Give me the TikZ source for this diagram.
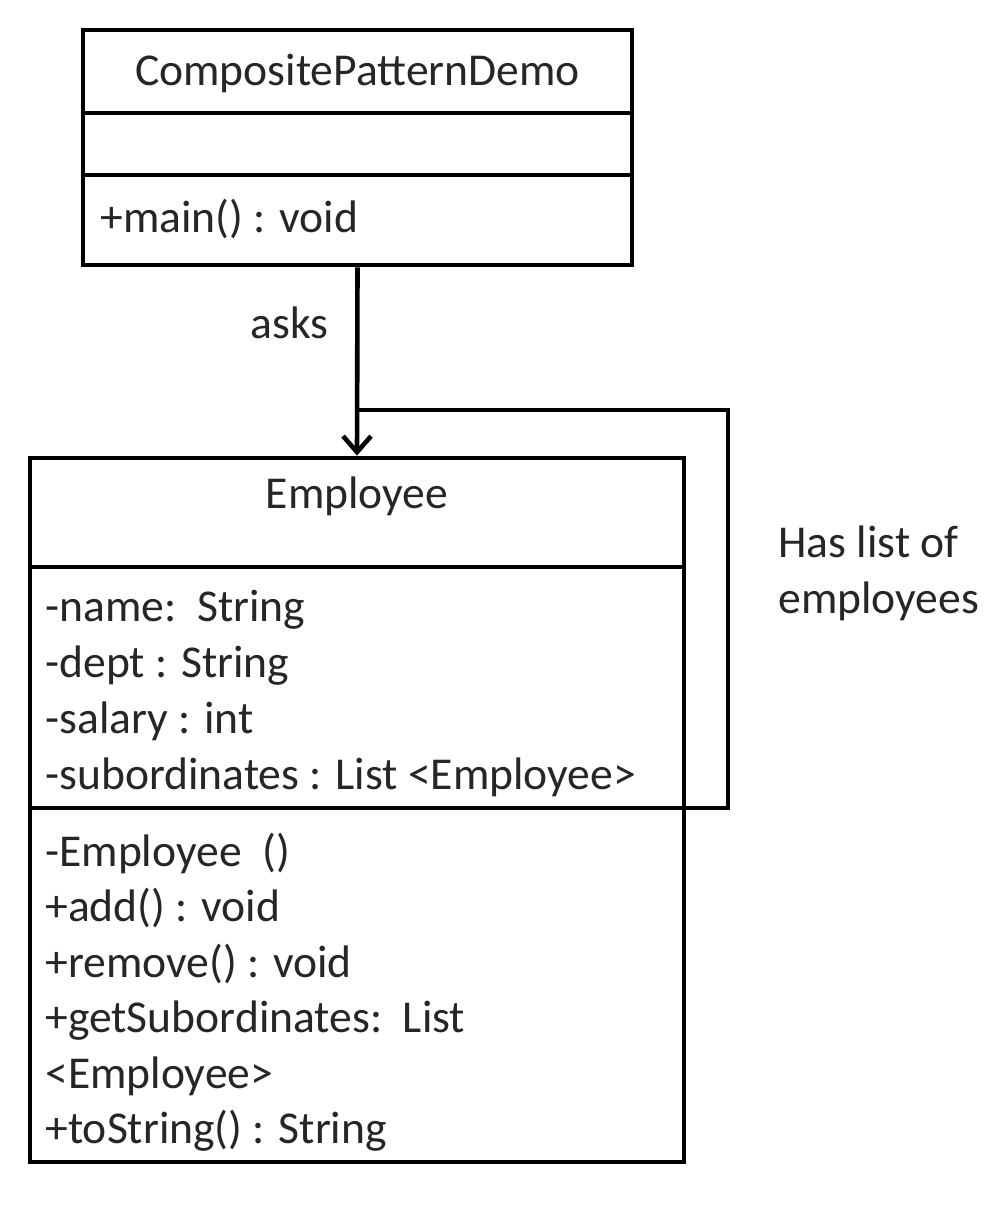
\documentclass[tikz,border=0pt]{standalone}
\usepackage{fontspec}
\setmainfont{Carlito}
\usetikzlibrary{arrows.meta}
\begin{document}
\begin{tikzpicture}[x=0.5pt,y=-0.5pt,
  box/.style={draw=black, line width=2.4pt, fill=white, inner sep=0pt},
  rule/.style={draw=black, line width=2.4pt},
  conn/.style={draw=black, line width=2.3pt},
  txt/.style={font=\fontsize{22.8}{27}\selectfont, text=black!85, inner sep=0pt, anchor=base west},
  ctxt/.style={txt, anchor=base}]
\useasboundingbox (0,0) rectangle (1000,1214);
\fill[white] (0,0) rectangle (1000,1214);
% top class
\node[box, minimum width=274.5pt, minimum height=117.5pt] (demo) at (357.5,147.5) {};
\draw[rule] (83,113) -- (632,113);
\draw[rule] (83,175) -- (632,175);
\node[ctxt] (demoname) at (357.5,86) {CompositePatternDemo};
\node[txt] (demomain) at (100,233) {+main() : void};
% employee class
\node[box, minimum width=327pt, minimum height=352pt] (emp) at (357,810) {};
\draw[rule] (30,567) -- (684,567);
\coordinate (div2) at (684,808);
\draw[rule] (30,808) -- (div2);
\node[ctxt] (empname) at (357,508) {Employee};
\node[txt] (a1) at (45,621) {-name:\ \ String};
\node[txt] (a2) at (45,677) {-dept : String};
\node[txt] (a3) at (45,733) {-salary : int};
\node[txt] (a4) at (45,789) {-subordinates : List <Employee>};
\node[txt] (m1) at (45,866) {-Employee\ \ ()};
\node[txt] (m2) at (45,921) {+add() : void};
\node[txt] (m3) at (45,977) {+remove() : void};
\node[txt] (m4) at (45,1032) {+getSubordinates:\ \ List};
\node[txt] (m5) at (45,1088) {<Employee>};
\node[txt] (m6) at (45,1143) {+toString() : String};
% connectors
\draw[conn, -{Straight Barb[length=8pt, width=14pt, line width=2.3pt]}] (demo.south) -- (emp.north);
\node[txt] (asks) at (250,338) {asks};
\coordinate (j) at (357,410);
\coordinate (k) at (728,410);
\draw[conn] (j) -- (k) |- (div2);
\node[txt] (has1) at (778,557) {Has list of};
\node[txt] (has2) at (778,613) {employees};
\end{tikzpicture}
\end{document}
